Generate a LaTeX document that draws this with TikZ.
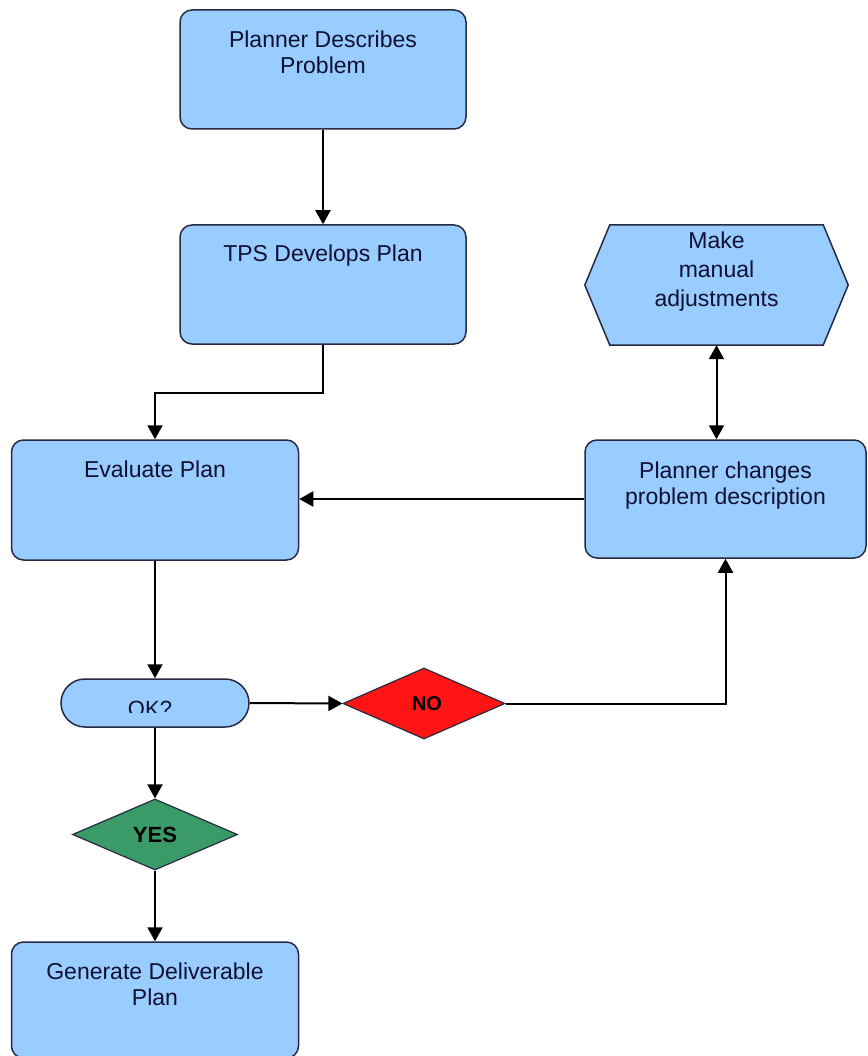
\documentclass[tikz,border=0pt]{standalone}
\usepackage{fontspec}
\setmainfont{Liberation Sans}
\usetikzlibrary{arrows.meta,shapes.geometric,calc}
\definecolor{boxfill}{HTML}{99CCFF}
\definecolor{boxline}{HTML}{262A42}
\definecolor{txtcol}{HTML}{101032}
\definecolor{nored}{HTML}{FF1414}
\definecolor{yesgreen}{HTML}{3A9A68}
\newcommand{\toptext}[4]{\parbox[t][#2][t]{#1}{\vspace*{#3}\centering #4\par}}
\begin{document}
\begin{tikzpicture}[x=1pt,y=-1pt,
  box/.style={draw=boxline,line width=1.5pt,fill=boxfill,rounded corners=12pt,inner sep=0pt,text=txtcol,font=\fontsize{23}{26}\selectfont},
  conn/.style={line width=2pt,draw=black},
  arr/.style={conn,-{Triangle[length=14pt,width=15pt]}},
  darr/.style={conn,{Triangle[length=14pt,width=15pt]}-{Triangle[length=14pt,width=15pt]}},
  dia/.style={diamond,draw=boxline,line width=1.2pt,inner sep=0pt,text=black},
]
\useasboundingbox (0,0) rectangle (867,1056);
\clip (0,0) rectangle (867,1056);
\fill[white] (0,0) rectangle (867,1056);

% boxes
\node[box] (b1) at (323,69.5) {\toptext{286pt}{119pt}{21pt}{Planner Describes\\Problem}};
\node[box] (b2) at (323,284.5) {\toptext{286pt}{119pt}{20pt}{TPS Develops Plan}};
\node[box] (b3) at (155,500) {\toptext{287pt}{120pt}{21pt}{Evaluate Plan}};
\node[box] (b4) at (725.5,499) {\toptext{281pt}{118pt}{22pt}{Planner changes\\problem description}};
\node[box] (b5) at (155,1000) {\toptext{287pt}{116pt}{21pt}{Generate Deliverable\\Plan}};

% hexagon
\node[inner sep=0pt,minimum width=263pt,minimum height=120pt] (hex) at (716.5,285) {};
\draw[draw=boxline,line width=1.5pt,fill=boxfill]
  (hex.west) -- ($(hex.north west)+(25,0)$) -- ($(hex.north east)+(-25,0)$)
  -- (hex.east) -- ($(hex.south east)+(-25,0)$) -- ($(hex.south west)+(25,0)$) -- cycle;
\node[text=txtcol,font=\fontsize{23}{29}\selectfont,align=center,inner sep=0pt] (hextext) at (716.5,272) {Make\\manual\\adjustments};

% OK? terminal
\node[draw=boxline,line width=1.5pt,fill=boxfill,rounded corners=24pt,minimum width=188pt,minimum height=48pt,inner sep=0pt] (ok) at (155,703) {};
\begin{scope}
  \clip (ok.north west) rectangle ($(ok.east)+(0,9)$);
  \node[anchor=base,text=txtcol,font=\fontsize{22}{26}\selectfont,inner sep=0pt] (oktext) at (150,716) {OK?};
\end{scope}

% decisions
\node[dia,fill=nored,minimum width=162pt,minimum height=71pt,font=\fontsize{20}{24}\selectfont\bfseries] (no) at (424,703.5) {\hspace*{6pt}NO};
\node[dia,fill=yesgreen,minimum width=165pt,minimum height=71pt,font=\fontsize{22}{26}\selectfont\bfseries] (yes) at (155,834.5) {YES};

% connectors
\draw[arr] (b1.south) -- (b2.north);
\draw[arr] (b2.south) -- ++(0,48) -| (b3.north);
\draw[arr] (b4.west) -- (b4.west -| b3.east);
\draw[darr] (hex.south) -- (hex.south |- b4.north);
\draw[arr] (b3.south) -- (ok.north);
\draw[arr] (ok.east) -- (no.west);
\draw[arr] (no.east) -| (b4.south);
\draw[arr] (ok.south) -- (yes.north);
\draw[arr] (yes.south) -- (b5.north);
\end{tikzpicture}
\end{document}
